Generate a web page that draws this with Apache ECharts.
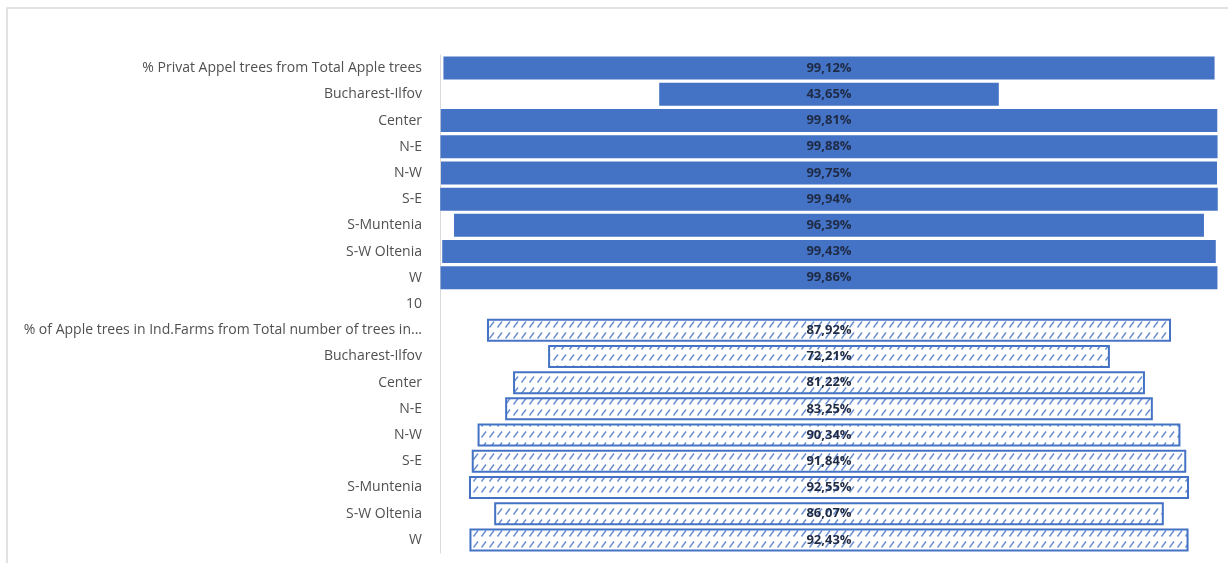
<!DOCTYPE html>
<html>
<head>
<meta charset="utf-8">
<script src="https://cdn.jsdelivr.net/npm/echarts@6/dist/echarts.min.js"></script>
<style>
  html, body { margin: 0; padding: 0; background: #fff; }
  #chart { width: 1228px; height: 563px; }
</style>
</head>
<body>
<div id="chart"></div>
<script>
const categories = [
  '% Privat Appel trees from Total Apple trees',
  'Bucharest-Ilfov', 'Center', 'N-E', 'N-W', 'S-E', 'S-Muntenia', 'S-W Oltenia', 'W',
  '10',
  '% of Apple trees in Ind.Farms from Total number of trees in...',
  'Bucharest-Ilfov', 'Center', 'N-E', 'N-W', 'S-E', 'S-Muntenia', 'S-W Oltenia', 'W'
]
// % private apple trees (rows 0-8)
const privatValues = [99.12, 43.65, 99.81, 99.88, 99.75, 99.94, 96.39, 99.43, 99.86]
// % apple trees in individual farms (rows 10-18)
const farmValues = [87.92, 72.21, 81.22, 83.25, 90.34, 91.84, 92.55, 86.07, 92.43]

const blue = '#4472C4'

// rows: top block, empty "10" row, bottom block
const topData = privatValues.concat(['-'], farmValues.map(() => '-'))
const botData = privatValues.map(() => '-').concat(['-'], farmValues)
const allVals = privatValues.concat([null], farmValues)
// invisible spacer so each bar sits centred on 50%
const spacer = allVals.map(v => (v == null ? '-' : (100 - v) / 2))

// hatch pattern ////
const hatch = document.createElement('canvas')
hatch.width = 8
hatch.height = 11
const ctx = hatch.getContext('2d')
ctx.fillStyle = '#fff'
ctx.fillRect(0, 0, 8, 11)
ctx.strokeStyle = 'rgba(68,114,196,0.8)'
ctx.lineWidth = 1.4
ctx.beginPath()
ctx.moveTo(1.5, 8.5)
ctx.lineTo(6, 2.5)
ctx.stroke()

const fmt = p => p.value.toFixed(2).replace('.', ',') + '%'
const labelStyle = {
  show: true,
  position: 'inside',
  formatter: fmt,
  color: '#1f2a44',
  fontWeight: 'bold',
  fontSize: 13,
  fontFamily: 'Open Sans'
}

const chart = echarts.init(document.getElementById('chart'))
chart.setOption({
  animation: false,
  backgroundColor: '#fff',
  graphic: [
    {
      type: 'rect',
      shape: { x: 7, y: 8, width: 1300, height: 700 },
      style: { fill: 'none', stroke: '#d9d9d9', lineWidth: 1.5 },
      silent: true
    }
  ],
  grid: { left: 440, right: 10, top: 55, height: 498 },
  xAxis: {
    type: 'value',
    min: 0,
    max: 100,
    show: false
  },
  yAxis: {
    type: 'category',
    inverse: true,
    data: categories,
    axisLine: { show: true, lineStyle: { color: '#d9d9d9', width: 1 } },
    axisTick: { show: false },
    axisLabel: {
      color: '#505050',
      fontSize: 14,
      fontFamily: 'Open Sans',
      margin: 18
    }
  },
  series: [
    {
      type: 'bar',
      stack: 'c',
      silent: true,
      barWidth: 23,
      itemStyle: { color: 'rgba(0,0,0,0)' },
      data: spacer
    },
    {
      name: 'privat',
      type: 'bar',
      stack: 'c',
      barWidth: 23,
      itemStyle: { color: blue },
      label: labelStyle,
      data: topData
    },
    {
      name: 'farms',
      type: 'bar',
      stack: 'c',
      barWidth: 23,
      itemStyle: {
        color: { image: hatch, repeat: 'repeat' },
        borderColor: blue,
        borderWidth: 2
      },
      label: labelStyle,
      data: botData
    }
  ]
})
</script>
</body>
</html>
